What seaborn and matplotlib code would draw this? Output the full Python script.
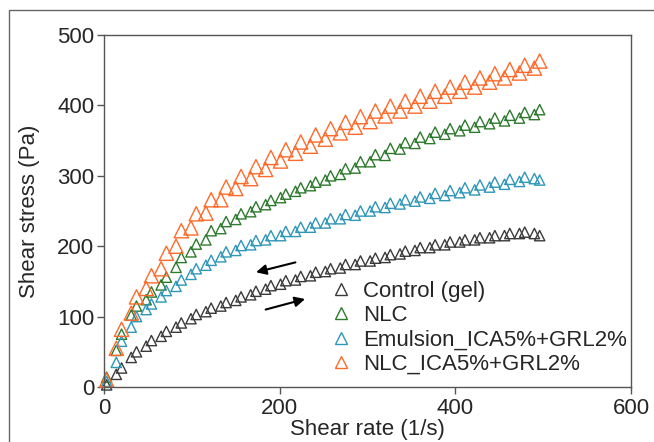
import matplotlib
matplotlib.use("Agg")
import matplotlib.pyplot as plt
from matplotlib.lines import Line2D
from matplotlib.patches import Rectangle
import pandas as pd
import seaborn as sns

sns.set_style("ticks")
plt.rcParams['font.family'] = ['Liberation Sans', 'DejaVu Sans']

# shear rate ramps (1/s): up ramp and down ramp
rate_up = [3, 20, 37, 54, 71, 88, 105, 122, 139, 156, 173, 190, 207, 224, 241,
           258, 275, 292, 309, 326, 343, 360, 377, 394, 411, 428, 445, 462, 479, 496]
rate_down = [490, 473, 456, 439, 422, 405, 388, 371, 354, 337, 320, 303, 286, 269, 252,
             235, 218, 201, 184, 167, 150, 133, 116, 99, 82, 65, 48, 31, 14]

# shear stress (Pa)
control_up = [3, 27, 50, 66, 79, 91, 103, 112, 120, 128, 136, 144, 151, 157, 163,
              168, 174, 179, 183, 188, 193, 198, 202, 206, 209, 212, 215, 218, 220, 215]
control_down = [218, 218, 215, 212, 209, 206, 202, 198, 194, 189, 184, 179, 174, 169, 164,
                158, 152, 146, 139, 131, 123, 115, 107, 97, 85, 72, 58, 42, 18]

nlc_up = [14, 75, 115, 135, 156, 184, 203, 222, 235, 246, 256, 265, 274, 283, 291,
          300, 310, 320, 330, 339, 347, 355, 362, 367, 372, 377, 382, 386, 390, 394]
nlc_down = [387, 382, 378, 374, 369, 364, 359, 353, 346, 338, 329, 320, 311, 302, 294,
            286, 278, 269, 259, 249, 238, 225, 209, 192, 170, 145, 124, 102, 52]

emul_up = [8, 65, 100, 118, 137, 152, 168, 180, 192, 201, 208, 215, 221, 227, 233,
           239, 245, 250, 256, 261, 266, 270, 275, 279, 283, 287, 291, 295, 298, 294]
emul_down = [296, 292, 288, 284, 280, 276, 272, 268, 264, 260, 255, 250, 244, 239, 233,
             227, 221, 215, 209, 202, 194, 185, 173, 160, 143, 128, 110, 85, 35]

nlc_ica_up = [10, 82, 128, 158, 190, 222, 246, 266, 284, 299, 313, 326, 337, 348, 358,
              367, 376, 384, 392, 399, 406, 413, 420, 426, 433, 439, 445, 451, 457, 463]
nlc_ica_down = [453, 446, 439, 433, 426, 420, 413, 406, 399, 392, 385, 377, 369, 361, 352,
                342, 332, 321, 309, 296, 282, 266, 247, 226, 200, 168, 140, 105, 55]

labels = ["Control (gel)", "NLC", "Emulsion_ICA5%+GRL2%", "NLC_ICA5%+GRL2%"]
colors = ["#3a3a3a", "#2d7a2d", "#2e96b8", "#ff6a2a"]
sizes = [55, 55, 55, 105]
ups = [control_up, nlc_up, emul_up, nlc_ica_up]
downs = [control_down, nlc_down, emul_down, nlc_ica_down]

fig = plt.figure(figsize=(6.54, 4.42), dpi=100)
ax = fig.add_axes([104 / 654, 1 - 387 / 442, 527 / 654, 352 / 442])

for lab, col, s, up, down in zip(labels, colors, sizes, ups, downs):
    df = pd.DataFrame({"rate": rate_up + rate_down, "stress": up + down})
    sns.scatterplot(data=df, x="rate", y="stress", ax=ax, marker="^", s=s,
                    facecolor="none", edgecolor=col, linewidth=1.0, clip_on=False)

ax.set_xlim(0, 600)
ax.set_ylim(0, 500)
ax.set_xticks([0, 200, 400, 600])
ax.set_yticks([0, 100, 200, 300, 400, 500])
ax.tick_params(labelsize=16, length=5, width=1, color="#555555")
ax.tick_params(axis="x", pad=3)
ax.tick_params(axis="y", pad=2)
for sp in ax.spines.values():
    sp.set_color("#555555")
    sp.set_linewidth(1)
ax.set_xlabel("Shear rate (1/s)", fontsize=16, labelpad=0)
ax.set_ylabel("Shear stress (Pa)", fontsize=16, labelpad=12)

# direction arrows
ax.annotate("", xy=(170, 162), xytext=(221, 178),
            arrowprops=dict(arrowstyle="-|>", color="black", lw=1.5, mutation_scale=15))
ax.annotate("", xy=(232, 126), xytext=(181, 109),
            arrowprops=dict(arrowstyle="-|>", color="black", lw=1.5, mutation_scale=15))

handles = [Line2D([], [], ls="none", marker="^", ms=8, mfc="none", mec=c, mew=1)
           for c in colors]
ax.legend(handles, labels, loc="lower left", bbox_to_anchor=(0.41, 0.0),
          frameon=False, fontsize=16, handlelength=0.8, handletextpad=0.6,
          labelspacing=0.15, borderaxespad=0.15)

# outer frame
fig.patches.append(Rectangle((9 / 654, -0.1), 1.0, 1 - 10 / 442 + 0.1,
                             transform=fig.transFigure, fill=False,
                             edgecolor="#666666", lw=1))

fig.savefig("out.png", dpi=100)
